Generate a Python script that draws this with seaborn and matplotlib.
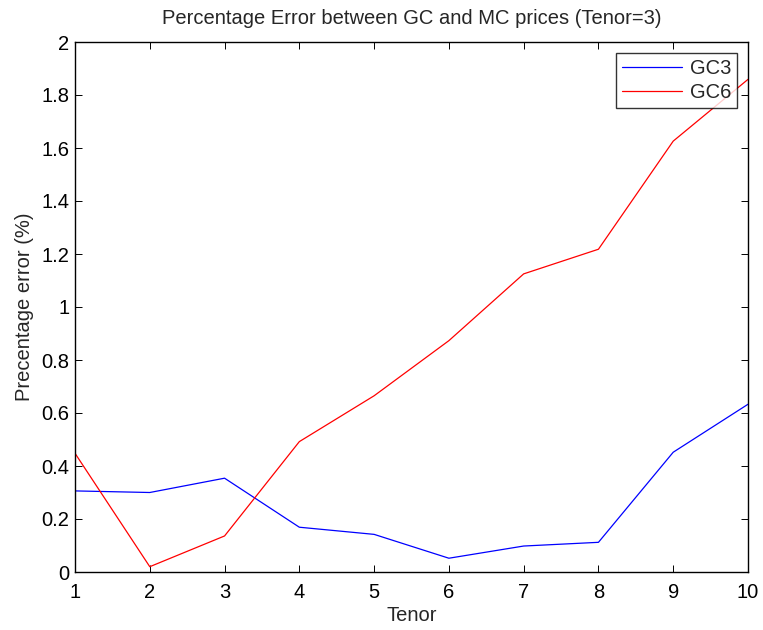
import matplotlib
matplotlib.use("Agg")
import matplotlib.pyplot as plt
import numpy as np
import pandas as pd
import seaborn as sns

tenor = [1, 2, 3, 4, 5, 6, 7, 8, 9, 10]
gc3 = [0.306, 0.300, 0.354, 0.169, 0.142, 0.052, 0.098, 0.112, 0.452, 0.633]
gc6 = [0.448, 0.020, 0.136, 0.492, 0.665, 0.873, 1.125, 1.218, 1.626, 1.859]
series_names = ["GC3", "GC6"]
x_ticks = [1, 2, 3, 4, 5, 6, 7, 8, 9, 10]
y_ticks = [0, 0.2, 0.4, 0.6, 0.8, 1.0, 1.2, 1.4, 1.6, 1.8, 2.0]
y_tick_labels = ["0", "0.2", "0.4", "0.6", "0.8", "1", "1.2", "1.4", "1.6", "1.8", "2"]

df = pd.DataFrame({
    "Tenor": tenor * 2,
    "Error": gc3 + gc6,
    "Series": [series_names[0]] * len(tenor) + [series_names[1]] * len(tenor),
})

FS = 14.5

sns.set_style("ticks")
plt.rcParams["font.family"] = ["Liberation Sans", "DejaVu Sans"]
plt.rcParams["xtick.direction"] = "in"
plt.rcParams["ytick.direction"] = "in"

fig = plt.figure(figsize=(7.63, 6.30), dpi=100)
ax = fig.add_axes([75 / 763, 58 / 630, 673 / 763, 530 / 630])

sns.lineplot(data=df, x="Tenor", y="Error", hue="Series",
             palette={"GC3": "#0000ff", "GC6": "#ff0000"},
             linewidth=0.9, ax=ax, legend=True)

ax.set_xlim(1, 10)
ax.set_ylim(0, 2)
ax.set_xticks(x_ticks)
ax.set_xticklabels([str(t) for t in x_ticks])
ax.set_yticks(y_ticks)
ax.set_yticklabels(y_tick_labels)
ax.tick_params(axis="both", which="both", direction="in", length=5, width=0.7,
               labelsize=FS, top=True, right=True, colors="black")
ax.tick_params(axis="x", pad=8)
ax.tick_params(axis="y", pad=4)
for s in ax.spines.values():
    s.set_visible(True)
    s.set_linewidth(1.0)
    s.set_color("black")

ax.set_xlabel("Tenor", fontsize=FS, labelpad=3)
ax.set_ylabel("Precentage error (%)", fontsize=FS, labelpad=5)
ax.set_title("Percentage Error between GC and MC prices (Tenor=3)", fontsize=FS, pad=13)

leg = ax.legend(loc="upper right", fontsize=FS, frameon=True, fancybox=False,
                borderaxespad=0.55, handlelength=3.0, handletextpad=0.35,
                borderpad=0.3, labelspacing=0.25)
leg.get_frame().set_edgecolor("black")
leg.get_frame().set_linewidth(1.0)

fig.savefig("out.png", dpi=100, facecolor="white")
